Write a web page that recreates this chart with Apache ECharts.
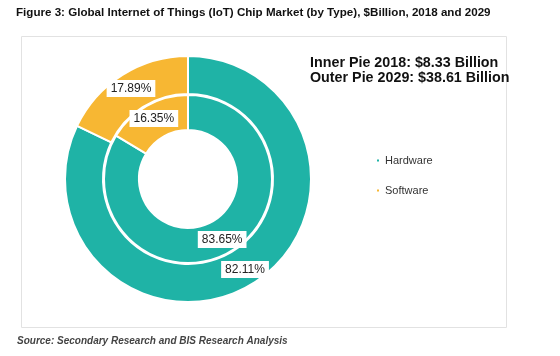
<!DOCTYPE html>
<html><head><meta charset="utf-8">
<script src="https://cdn.jsdelivr.net/npm/echarts@6/dist/echarts.min.js"></script>
<style>html,body{margin:0;padding:0;background:#fff}#c{width:560px;height:356px}</style>
</head><body><div id="c"></div>
<script>
const categories = ['Hardware', 'Software'];
const inner2018 = [83.65, 16.35];
const outer2029 = [82.11, 17.89];
const colors = ['#1FB3A6', '#F7B733'];

const chart = echarts.init(document.getElementById('c'));
const labelStyle = {
  show: true, position: 'inside', formatter: p => p.value.toFixed(2) + '%',
  backgroundColor: '#fff', color: '#222', fontSize: 12, fontFamily: 'Liberation Sans, Arial',
  padding: [3, 4, 2, 4]
};
chart.setOption({
  animation: false,
  color: colors,
  title: [
    { text: 'Figure 3: Global Internet of Things (IoT) Chip Market (by Type), $Billion, 2018 and 2029',
      left: 16, top: 7, padding: 0, textStyle: { fontSize: 11.6, fontWeight: 'bold', color: '#111', fontFamily: 'Liberation Sans, Arial' } },
    { text: 'Inner Pie 2018: $8.33 Billion\nOuter Pie 2029: $38.61 Billion',
      left: 310, top: 56, padding: 0, textStyle: { fontSize: 14.3, fontWeight: 'bold', color: '#111', lineHeight: 15, fontFamily: 'Liberation Sans, Arial' } },
    { text: 'Source: Secondary Research and BIS Research Analysis',
      left: 17, top: 336, padding: 0, textStyle: { fontSize: 10, fontWeight: 'bold', fontStyle: 'italic', color: '#444', fontFamily: 'Liberation Sans, Arial' } }
  ],
  graphic: [{
    type: 'rect', shape: { x: 21.5, y: 36.5, width: 485, height: 291 },
    style: { fill: 'none', stroke: '#e2e2e2', lineWidth: 1 }, z: -1
  }],
  legend: {
    orient: 'vertical', left: 375, top: 155, padding: 0, icon: 'rect', itemWidth: 4, itemHeight: 4, itemGap: 19,
    data: categories, textStyle: { fontSize: 11, color: '#333', fontFamily: 'Liberation Sans, Arial' }
  },
  series: [
    { name: '2018', type: 'pie', center: [188, 179], radius: [49, 84], startAngle: 90, clockwise: true,
      itemStyle: { borderColor: '#fff', borderWidth: 2 }, label: labelStyle, labelLine: { show: false },
      data: categories.map((c, i) => ({ name: c, value: inner2018[i] })) },
    { name: '2029', type: 'pie', center: [188, 179], radius: [85, 123], startAngle: 90, clockwise: true,
      itemStyle: { borderColor: '#fff', borderWidth: 2 }, label: labelStyle, labelLine: { show: false },
      data: categories.map((c, i) => ({ name: c, value: outer2029[i] })) }
  ]
});
</script></body></html>
